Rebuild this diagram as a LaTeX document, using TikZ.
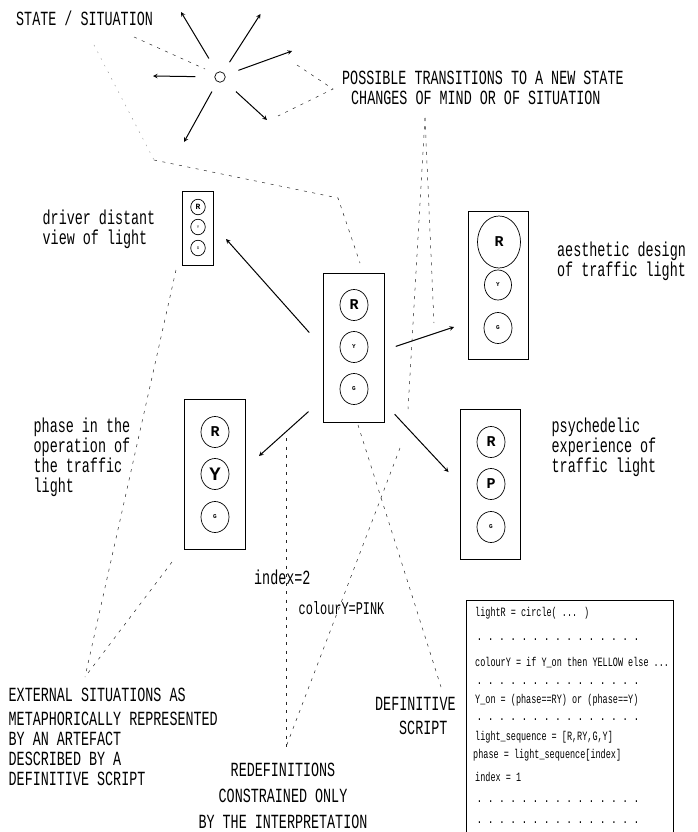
\documentclass[tikz,border=0pt]{standalone}
\usepackage{fontspec}
\setmainfont{Liberation Mono}
\usetikzlibrary{shapes.geometric, arrows, positioning, calc}

\begin{document}
\begin{tikzpicture}[x=1pt, y=-1pt]
        \tikzstyle{housing} = [rectangle, draw=black, line width=0.8pt, inner sep=0pt, minimum width=61pt, minimum height=149pt]
        \tikzstyle{lamp} = [ellipse, draw=black, line width=0.7pt, inner sep=0pt, minimum width=28pt, minimum height=31pt, font=\fontsize{6}{6}\selectfont\bfseries]
        \tikzstyle{smalllamp} = [lamp, minimum width=14.5pt, minimum height=15.5pt, font=\fontsize{4}{4}\selectfont]
        \tikzstyle{boldletter} = [font=\fontsize{15}{15}\selectfont\bfseries]
        \tikzstyle{note} = [inner sep=0pt, align=left, anchor=west, transform shape, yscale=1.5, font=\fontsize{13.4}{13.4}\selectfont]
        \tikzstyle{scriptline} = [inner sep=0pt, anchor=west, transform shape, yscale=1.5, font=\fontsize{8.5}{8.5}\selectfont]
        \tikzstyle{arrow} = [line width=1pt,->,>=stealth]
        \tikzstyle{guide} = [line width=0.5pt, dash pattern=on 3pt off 5.5pt, black!85]
        \newcommand{\scriptdots}{{\fontsize{8}{8}\selectfont\bfseries . . . . . . . . . . . . . . .}}

        \useasboundingbox (0,0) rectangle (697,832);

        \node (hub) [ellipse, draw=black, line width=0.7pt, minimum width=10.5pt, minimum height=10.5pt, inner sep=0pt] at (220,77) {};
        \coordinate (tipnw) at (181,12);
        \coordinate (tipne) at (260.5,14);
        \coordinate (tipene) at (292,51);
        \coordinate (tipw) at (153,76);
        \coordinate (tipse) at (267,120);
        \coordinate (tipssw) at (184,142);
        \draw [arrow, shorten <=16pt] (hub) -- (tipnw);
        \draw [arrow, shorten <=12pt] (hub) -- (tipne);
        \draw [arrow, shorten <=14pt] (hub) -- (tipene);
        \draw [arrow, shorten <=19pt] (hub) -- (tipw);
        \draw [arrow, shorten <=16pt] (hub) -- (tipse);
        \draw [arrow, shorten <=11pt] (hub) -- (tipssw);

        \node (statelabel) [note] at (16,18) {STATE / SITUATION};
        \node (translabel) [note] at (342,88) {POSSIBLE TRANSITIONS TO A NEW STATE\\\hspace*{9pt}CHANGES OF MIND OR OF SITUATION};

        \node (driver) [housing, minimum width=30.5pt, minimum height=74pt] at (198,228) {};
        \node (driverR) [smalllamp, font=\fontsize{8}{8}\selectfont\bfseries] at (198,207) {R};
        \node (driverY) [smalllamp] at (198,227) {Y};
        \node (driverG) [smalllamp] at (198,248) {G};

        \node (centre) [housing] at (353.5,347.5) {};
        \node (centreR) [lamp, boldletter] at (354,305) {R};
        \node (centreY) [lamp] at (354,347) {Y};
        \node (centreG) [lamp] at (354,389) {G};

        \node (aesthetic) [housing, minimum width=60pt, minimum height=148pt] at (498,285) {};
        \node (aestheticR) [lamp, boldletter, minimum width=43pt, minimum height=52pt] at (499,242) {R};
        \node (aestheticY) [lamp, minimum width=27pt, minimum height=30pt] at (498,285) {Y};
        \node (aestheticG) [lamp] at (498,328) {G};

        \node (phase) [housing, minimum height=150pt] at (214.5,474) {};
        \node (phaseR) [lamp, boldletter] at (215,432) {R};
        \node (phaseY) [lamp, boldletter, font=\fontsize{19}{19}\selectfont\bfseries] at (215,474) {Y};
        \node (phaseG) [lamp] at (215,517) {G};

        \node (psych) [housing, minimum width=60pt, minimum height=150pt] at (490,484) {};
        \node (psychR) [lamp, boldletter] at (491,442) {R};
        \node (psychP) [lamp, boldletter] at (491,484) {P};
        \node (psychG) [lamp] at (491,527) {G};

        \coordinate (tipdriver) at (226,239);
        \coordinate (tipaesthetic) at (454,327);
        \coordinate (tipphase) at (259,456);
        \coordinate (tippsych) at (448.5,472);
        \draw [arrow, shorten <=20pt] (centre.west) -- (tipdriver);
        \draw [arrow, shorten <=12pt] (centre.-5) -- (tipaesthetic);
        \draw [arrow, shorten <=19pt] (centre.239) -- (tipphase);
        \draw [arrow, shorten <=15pt] (centre.-61) -- (tippsych);

        \node (driverlabel) [note] at (42.5,229) {driver distant\\view of light};
        \node (aestheticlabel) [note] at (557,261.5) {aesthetic design\\of traffic light};
        \node (phaselabel) [note] at (33.5,457.5) {phase in the\\operation of\\the traffic\\light};
        \node (psychlabel) [note] at (551.5,447) {psychedelic\\experience of\\traffic light};
        \node (indexlabel) [note] at (254,577) {index=2};
        \node (colourlabel) [note, font=\fontsize{11.9}{11.9}\selectfont] at (298.5,608) {colourY=PINK};
        \node (externallabel) [note] at (8.5,737) {EXTERNAL SITUATIONS AS\\[2pt]METAPHORICALLY REPRESENTED\\BY AN ARTEFACT\\DESCRIBED BY A\\DEFINITIVE SCRIPT};
        \node (scriptlabel) [note] at (375,716) {DEFINITIVE\\[2.5pt]\hspace*{24pt}SCRIPT};
        \node (redeflabel) [note, align=center, anchor=center] at (283,796) {REDEFINITIONS\\[4pt]CONSTRAINED ONLY\\[4pt]BY THE INTERPRETATION};

        \node (scriptbox) [rectangle, draw=black, line width=0.8pt, minimum width=207pt, minimum height=300pt] at (569.5,750) {};
        \node (s1) [scriptline] at (475,613) {lightR = circle( ... )};
        \node (s2) [scriptline] at (477,640) {\scriptdots};
        \node (s3) [scriptline] at (475,663) {colourY = if Y\_on then YELLOW else ...};
        \node (s4) [scriptline] at (477,684) {\scriptdots};
        \node (s5) [scriptline] at (475,700) {Y\_on = (phase==RY) or (phase==Y)};
        \node (s6) [scriptline] at (477,720) {\scriptdots};
        \node (s7) [scriptline] at (475,737) {light\_sequence = [R,RY,G,Y]};
        \node (s8) [scriptline] at (473,755) {phase = light\_sequence[index]};
        \node (s9) [scriptline] at (475,777) {index = 1};
        \node (s10) [scriptline] at (477,802) {\scriptdots};
        \node (s11) [scriptline] at (477,823) {\scriptdots};

        \coordinate (statetail) at (134,37);
        \coordinate (statehead) at (205,69);
        \draw [guide] (statetail) -- (statehead);

        \coordinate (transup) at (297,65);
        \coordinate (transapex) at (333,89);
        \coordinate (transdown) at (278,116);
        \draw [guide] (transup) -- (transapex) -- (transdown);

        \coordinate (changesroot) at (425,118);
        \coordinate (aestheticend) at (434,323);
        \coordinate (psychend) at (408,409);
        \draw [guide] (changesroot) -- (aestheticend);
        \draw [guide] (changesroot) -- (psychend);

        \coordinate (faintstart) at (94,45);
        \coordinate (bendleft) at (154,160);
        \coordinate (bendright) at (338,198);
        \coordinate (centretop) at (360,263);
        \draw [guide, black!40, dash pattern=on 1.5pt off 6pt] (faintstart) -- (bendleft);
        \draw [guide] (bendleft) -- (bendright) -- (centretop);

        \coordinate (driverfoot) at (176,270);
        \coordinate (phasefoot) at (172,562);
        \coordinate (externaltop) at (85,677);
        \draw [guide] (driverfoot) -- (externaltop);
        \draw [guide] (phasefoot) -- (externaltop);

        \coordinate (indexfoot) at (286,438);
        \coordinate (redeftop) at (286,747);
        \coordinate (colourfoot) at (400,448);
        \draw [guide] (indexfoot) -- (redeftop);
        \draw [guide] (colourfoot) -- (redeftop);

        \coordinate (scriptfoot) at (358,425);
        \coordinate (scripttop) at (441,687);
        \draw [guide] (scriptfoot) -- (scripttop);
    \end{tikzpicture}
\end{document}
